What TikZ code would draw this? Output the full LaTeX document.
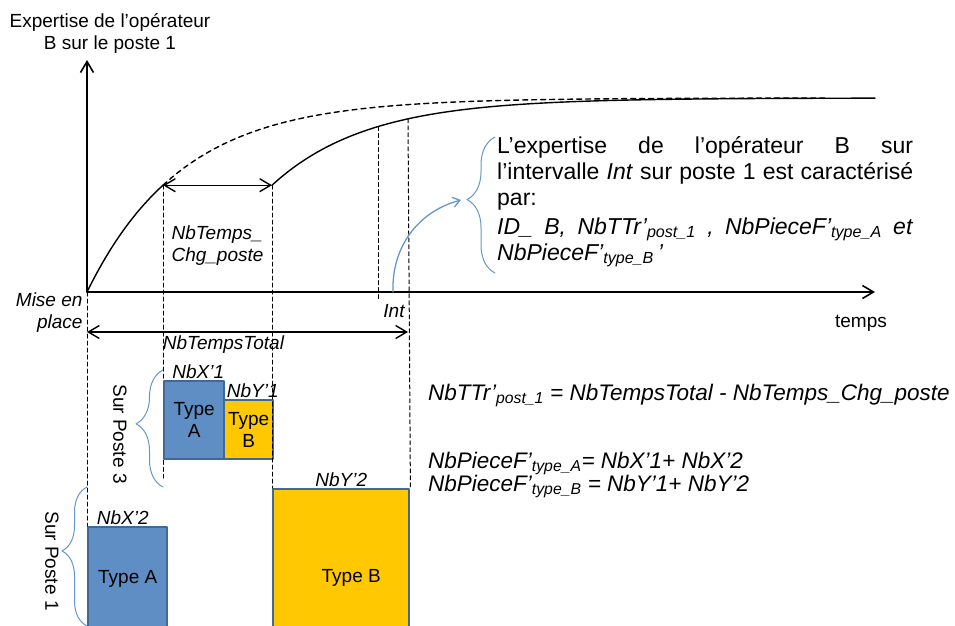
\documentclass[tikz,border=0pt]{standalone}
\usepackage{fontspec}
\setmainfont{Liberation Sans}
\usetikzlibrary{arrows.meta,decorations.pathreplacing}
\definecolor{boxblue}{RGB}{95,142,196}
\definecolor{boxgold}{RGB}{255,200,0}
\definecolor{boxedge}{RGB}{66,104,150}
\definecolor{linkblue}{RGB}{100,150,205}

\begin{document}
\begin{tikzpicture}[x=1pt,y=-1pt,line cap=round,line join=round,
    >={Straight Barb[length=11pt,width=13pt]},
    font=\fontsize{19pt}{22pt}\selectfont,
    lbl/.style={font=\fontsize{19pt}{22pt}\selectfont\itshape},
    eqn/.style={font=\fontsize{22.5pt}{24pt}\selectfont\itshape,anchor=base west,inner sep=0pt},
    axis/.style={line width=1.6pt},
    curve/.style={line width=1.4pt},
    guide/.style={line width=1pt,dash pattern=on 4pt off 3pt},
    piece/.style={draw=boxedge,line width=2.4pt,inner sep=0pt,anchor=north west,align=center},
    bracket/.style={linkblue,line width=1pt,decorate,decoration={brace,amplitude=#1,aspect=.54}}]
  \useasboundingbox (0,0) rectangle (955,625);
  \coordinate (O) at (87,292);
  \coordinate (ytip) at (87,60);
  \coordinate (xtip) at (875,292);
  \coordinate (c1) at (163,185.2);
  \coordinate (c2) at (272,185.2);
  \coordinate (i1) at (378,126.6);
  \coordinate (i2) at (408,118.8);
  \coordinate (i1end) at (378,300);
  \coordinate (c1end) at (163,478);
  \coordinate (t0) at (87,332);
  \coordinate (t1) at (408,332);
  \coordinate (int0) at (393,292);
  \coordinate (b0) at (461,200);

  % pieces produced
  \node[piece,fill=boxblue,minimum width=60pt,minimum height=78pt] (A1) at (163,380) {Type\\A};
  \node[piece,fill=boxgold,minimum width=49pt,minimum height=59pt] (B1) at (223,399) {Type\\B};
  \node[piece,fill=boxblue,minimum width=79pt,minimum height=104pt] (A2) at (87,526) {Type A};
  \node[piece,fill=boxgold,minimum width=136pt,minimum height=178pt] (B2) at (272,488) {\hspace{20pt}Type B};

  \node[lbl,above,inner sep=1pt] (nbx1) at ([xshift=4pt]A1.north) {NbX’1};
  \node[lbl,above,inner sep=1pt] (nby1) at ([xshift=4pt]B1.north) {NbY’1};
  \node[lbl,above,inner sep=1pt] (nby2) at (B2.north) {NbY’2};
  \node[lbl,above,inner sep=1pt] (nbx2) at ([xshift=-5pt]A2.north) {NbX’2};

  % guides
  \draw[guide] (O) -- (A2.north west);
  \draw[guide] (c1) -- (A1.north west) (A1.south west) -- (c1end);
  \draw[guide] (c2) -- (B2.north west);
  \draw[guide] (i1) -- (i1end);
  \draw[guide] (i2) -- (B2.north east);

  % axes
  \draw[axis,->] (O) -- (ytip);
  \draw[axis,->] (O) -- (xtip);
  \node[align=center,inner sep=0pt,anchor=north] (ylab) at (110,13) {Expertise de l’opérateur\\B sur le poste 1};
  \node (xlab) at (861,323) {temps};
  \node[lbl,align=right,anchor=east] (start) at (86,313) {Mise en\\place};
  \node[lbl] (int) at (394,311) {Int};

  % learning curves
  \draw[curve] plot[domain=87:163,samples=30] (\x,{292-194*(1-exp(-(\x-87)/95))});
  \draw[curve,dash pattern=on 5pt off 4pt] plot[domain=163:825,samples=90] (\x,{292-194*(1-exp(-(\x-87)/95))});
  \draw[curve] plot[domain=272:875,samples=90] (\x,{292-194*(1-exp(-(\x-196)/95))});

  \draw[curve,<->] (c1) -- (c2);
  \node[lbl,align=left,anchor=west] (chg) at (168,246) {NbTemps\_\\Chg\_poste};
  \draw[curve,<->] (t0) -- (t1) node[lbl,pos=.425,below] (tot) {NbTempsTotal};

  % link to the description
  \draw[linkblue,line width=1.3pt,-{Straight Barb[length=7pt,width=10pt]}] (int0) to[out=92,in=195] (b0);
  \draw[bracket=28pt] (495,273) -- (495,137);
  \node[anchor=north west,inner sep=0pt,text width=416pt,align=left,
    font=\fontsize{23pt}{26pt}\selectfont] (expl) at (497,136)
    {L’expertise\hfill de\hfill l’opérateur\hfill B\hfill sur\\
     l’intervalle\hfill \textit{Int}\hfill sur\hfill poste\hfill 1\hfill est\hfill caractérisé\\
     par:\\[3pt]
     \textit{ID\_\hfill B,\hfill NbTTr’\textsubscript{post\_1}\hfill,\hfill NbPieceF’\textsubscript{type\_A}\hfill et}\\
     \textit{NbPieceF’\textsubscript{type\_B}\,’}};

  % stations
  \draw[bracket=27pt] (163,487) -- (163,370);
  \node[rotate=-90] (p3) at (120,434) {Sur Poste 3};
  \draw[bracket=25pt] (87,626) -- (87,487);
  \node[rotate=-90] (p1) at (52,561) {Sur Poste 1};

  % formulas
  \node[eqn] (eq1) at (428,400) {NbTTr’\textsubscript{post\_1} = NbTempsTotal - NbTemps\_Chg\_poste};
  \node[eqn] (eq2) at (428,468) {NbPieceF’\textsubscript{type\_A}= NbX’1+ NbX’2};
  \node[eqn] (eq3) at (428,491) {NbPieceF’\textsubscript{type\_B} = NbY’1+ NbY’2};
\end{tikzpicture}
\end{document}
